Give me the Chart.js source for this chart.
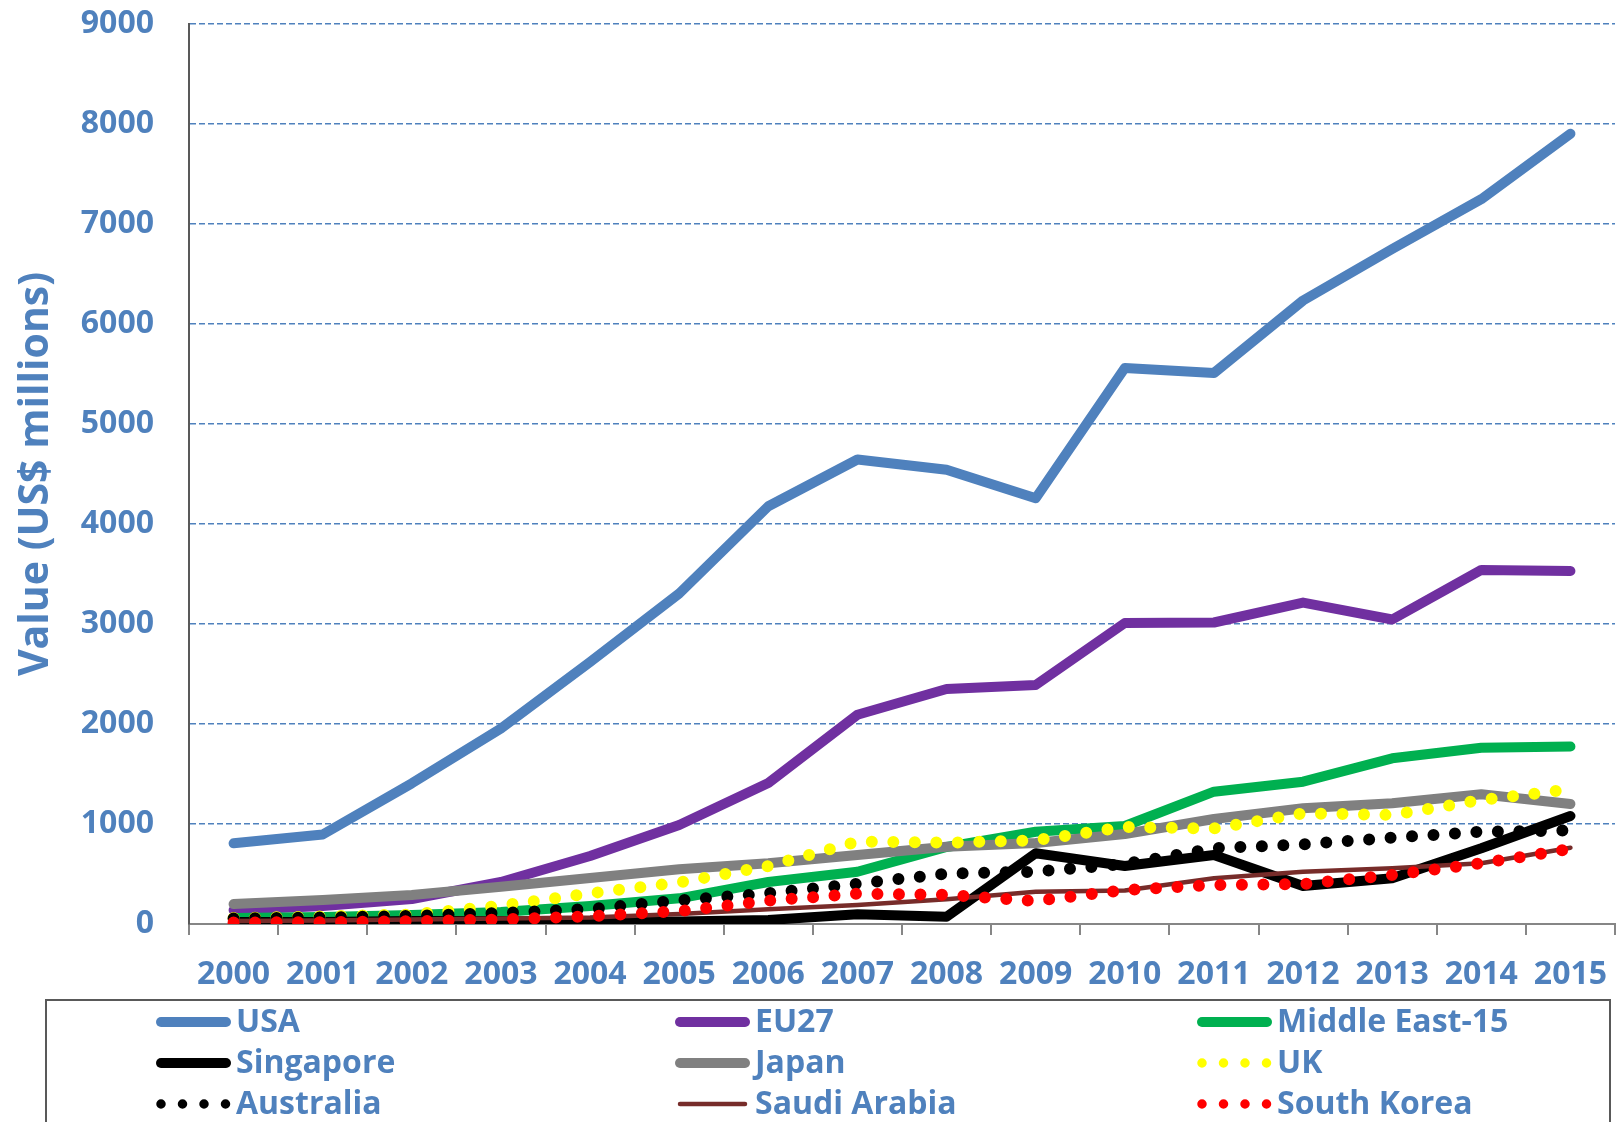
<!DOCTYPE html>
<html>
<head>
<meta charset="utf-8">
<title>Value (US$ millions)</title>
<script src="https://cdn.jsdelivr.net/npm/chart.js@4.4.1/dist/chart.umd.min.js"></script>
<style>
  html, body { margin: 0; padding: 0; background: #fff; }
  canvas { display: block; }
</style>
</head>
<body>
<canvas id="chart" width="1623" height="1122"></canvas>
<script>
const years = ["2000", "2001", "2002", "2003", "2004", "2005", "2006", "2007",
  "2008", "2009", "2010", "2011", "2012", "2013", "2014", "2015"];

const usa = [807, 895, 1407, 1955, 2620, 3305, 4177, 4645, 4543, 4258, 5560, 5510, 6235, 6750, 7248, 7903];
const eu27 = [140, 180, 250, 420, 680, 990, 1410, 2093, 2350, 2390, 3010, 3015, 3214, 3045, 3541, 3531];
const middleEast15 = [60, 70, 90, 120, 180, 257, 420, 523, 770, 923, 980, 1323, 1423, 1657, 1763, 1775];
const singapore = [20, 20, 30, 30, 20, 25, 40, 97, 73, 707, 580, 690, 380, 457, 757, 1080];
const japan = [200, 240, 290, 373, 460, 547, 607, 690, 773, 810, 900, 1050, 1157, 1207, 1297, 1200];
const uk = [60, 75, 95, 183, 307, 415, 580, 823, 813, 837, 970, 955, 1107, 1090, 1240, 1347];
const australia = [55, 65, 80, 110, 150, 235, 307, 403, 503, 523, 600, 757, 797, 863, 923, 935];
const saudiArabia = [30, 35, 45, 55, 65, 100, 147, 190, 247, 323, 335, 457, 523, 557, 607, 763];
const southKorea = [15, 18, 28, 45, 78, 128, 233, 303, 293, 230, 340, 390, 400, 490, 607, 750];

const yTicks = [0, 1000, 2000, 3000, 4000, 5000, 6000, 7000, 8000, 9000];

const BLUE_TEXT = "#4F81BD";
const FONT = "'Open Sans', 'Noto Sans', sans-serif";
const DOTS = [0, 21.5];

const series = [
  { label: "USA", data: usa, color: "#4F81BD", width: 10 },
  { label: "EU27", data: eu27, color: "#7030A0", width: 10 },
  { label: "Middle East-15", data: middleEast15, color: "#00B050", width: 10 },
  { label: "Singapore", data: singapore, color: "#000000", width: 10 },
  { label: "Japan", data: japan, color: "#808080", width: 10 },
  { label: "UK", data: uk, color: "#FFFF00", width: 12, dash: DOTS },
  { label: "Australia", data: australia, color: "#000000", width: 12, dash: DOTS },
  { label: "Saudi Arabia", data: saudiArabia, color: "#772C2A", width: 4.5 },
  { label: "South Korea", data: southKorea, color: "#FF0000", width: 12, dash: DOTS }
];

// Excel-like boxed legend, 3 columns
const boxLegend = {
  id: "boxLegend",
  afterDraw(chart) {
    const ctx = chart.ctx;
    ctx.save();
    ctx.strokeStyle = "#595959";
    ctx.lineWidth = 2;
    ctx.strokeRect(46, 1000, 1564, 140);

    const cols = [156, 675, 1197];
    const rows = [1022, 1063, 1104];
    chart.data.datasets.forEach((ds, i) => {
      const x0 = cols[i % 3];
      const y = rows[Math.floor(i / 3)];
      ctx.beginPath();
      ctx.lineWidth = ds.borderWidth;
      ctx.strokeStyle = ds.borderColor;
      ctx.lineCap = "round";
      if (ds.borderDash.length) {
        ctx.lineWidth = 9.5;
        ctx.setLineDash(ds.borderDash);
        ctx.moveTo(x0 + 5, y);
        ctx.lineTo(x0 + 72, y);
      } else {
        ctx.setLineDash([]);
        ctx.moveTo(x0 + 5, y);
        ctx.lineTo(x0 + 70, y);
      }
      ctx.stroke();
      ctx.setLineDash([]);
      ctx.fillStyle = BLUE_TEXT;
      ctx.font = "bold 32px " + FONT;
      ctx.textBaseline = "middle";
      ctx.textAlign = "left";
      ctx.fillText(ds.label, x0 + 80, y + 1);
    });
    ctx.restore();
  }
};

new Chart(document.getElementById("chart"), {
  type: "line",
  data: {
    labels: years,
    datasets: series.map((s, i) => ({
      label: s.label,
      data: s.data,
      borderColor: s.color,
      backgroundColor: s.color,
      borderWidth: s.width,
      borderDash: s.dash || [],
      borderCapStyle: "round",
      borderJoinStyle: "round",
      pointRadius: 0,
      pointHoverRadius: 0,
      tension: 0,
      fill: false,
      order: series.length - i
    }))
  },
  options: {
    responsive: false,
    animation: false,
    layout: { padding: { top: 24, right: 8, left: 0, bottom: 0 } },
    plugins: {
      legend: { display: false },
      tooltip: { enabled: false }
    },
    scales: {
      x: {
        type: "category",
        offset: true,
        afterFit: (scale) => {
          scale.height = 198;
          scale.paddingLeft = 0;
          scale.paddingRight = 0;
        },
        grid: {
          offset: true,
          drawOnChartArea: false,
          drawTicks: true,
          tickLength: 11,
          color: "#868686",
          lineWidth: 2
        },
        border: { display: true, color: "#868686", width: 2 },
        ticks: {
          autoSkip: false,
          maxRotation: 0,
          padding: 21,
          color: BLUE_TEXT,
          font: { family: FONT, size: 32, weight: "bold" }
        }
      },
      y: {
        min: 0,
        max: 9000,
        afterFit: (scale) => {
          scale.width = 189;
          scale.paddingTop = 0;
          scale.paddingBottom = 0;
        },
        afterBuildTicks: (scale) => { scale.ticks = yTicks.map(v => ({ value: v })); },
        grid: {
          drawTicks: false,
          color: (c) => (c.tick && c.tick.value === 0 ? "rgba(0,0,0,0)" : "#4F81BD"),
          lineWidth: 1.5
        },
        border: { display: true, color: "#595959", width: 2, dash: [6, 3] },
        ticks: {
          padding: 35,
          color: BLUE_TEXT,
          callback: (v) => String(v),
          font: { family: FONT, size: 32, weight: "bold" }
        },
        title: {
          display: true,
          text: "Value (US$ millions)",
          color: BLUE_TEXT,
          font: { family: FONT, size: 41, weight: "bold" },
          padding: { top: 12, bottom: 0 }
        }
      }
    }
  },
  plugins: [boxLegend]
});
</script>
</body>
</html>
